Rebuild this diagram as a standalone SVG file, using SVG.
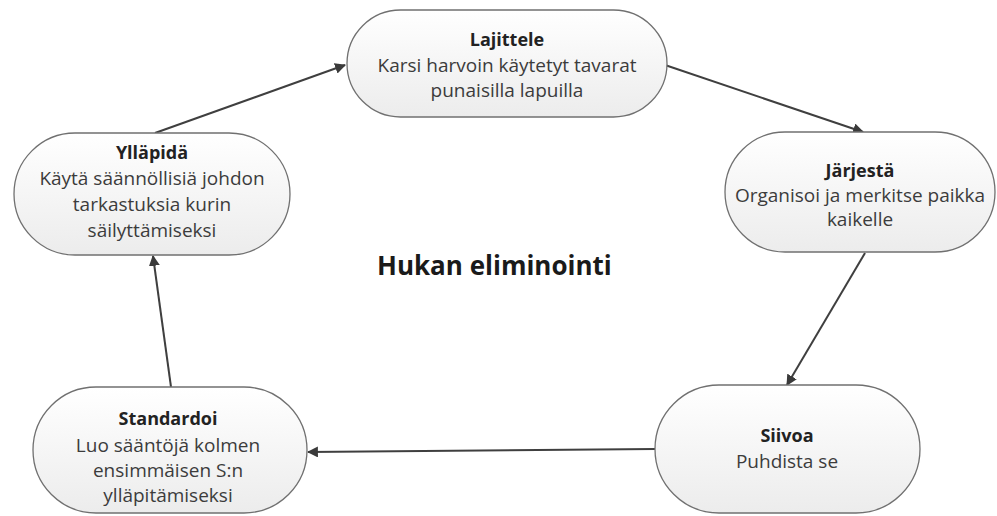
<svg xmlns="http://www.w3.org/2000/svg" width="997" height="516" viewBox="0 0 997 516">
<defs>
<linearGradient id="g" x1="0" y1="0" x2="0" y2="1">
<stop offset="0" stop-color="#ffffff"/>
<stop offset="1" stop-color="#ececec"/>
</linearGradient>
<marker id="ah" viewBox="0 0 10 10" refX="9" refY="5" markerWidth="11" markerHeight="11" markerUnits="userSpaceOnUse" orient="auto">
<path d="M0,0 L10,5 L0,10 z" fill="#3a3a3a"/>
</marker>
<style>
.box{fill:url(#g);stroke:#707070;stroke-width:1.3}
.t{font-family:"Open Sans","Liberation Sans",sans-serif;font-size:19px;fill:#3c3c3c;text-anchor:middle}
.h{font-weight:bold;fill:#222;font-size:18px}
.c{fill:none;stroke:#3f3f3f;stroke-width:2;marker-end:url(#ah)}
.title{font-family:"Open Sans","Liberation Sans",sans-serif;font-size:26px;font-weight:bold;fill:#1a1a1a}
</style>
</defs>
<rect width="997" height="516" fill="#ffffff"/>
<g id="connectors">
<line class="c" x1="155" y1="133" x2="345" y2="65"/>
<line class="c" x1="665" y1="65" x2="863" y2="132"/>
<line class="c" x1="865" y1="253" x2="787" y2="385"/>
<line class="c" x1="655" y1="449" x2="308" y2="452"/>
<line class="c" x1="171" y1="387" x2="153" y2="256"/>
</g>
<g id="lajittele">
<rect class="box" x="347" y="10" width="320" height="107" rx="53.5"/>
<text class="t h" x="507" y="46">Lajittele</text>
<text class="t" x="507" y="72">Karsi harvoin käytetyt tavarat</text>
<text class="t" x="507" y="97">punaisilla lapuilla</text>
</g>
<g id="jarjesta">
<rect class="box" x="725" y="132" width="270" height="120" rx="60"/>
<text class="t h" x="860" y="177">Järjestä</text>
<text class="t" x="860" y="202">Organisoi ja merkitse paikka</text>
<text class="t" x="860" y="226">kaikelle</text>
</g>
<g id="siivoa">
<rect class="box" x="655" y="385" width="265" height="128" rx="64"/>
<text class="t h" x="787" y="442">Siivoa</text>
<text class="t" x="787" y="468">Puhdista se</text>
</g>
<g id="standardoi">
<rect class="box" x="33" y="387" width="274" height="126" rx="63"/>
<text class="t h" x="168" y="425">Standardoi</text>
<text class="t" x="168" y="452">Luo sääntöjä kolmen</text>
<text class="t" x="168" y="477">ensimmäisen S:n</text>
<text class="t" x="168" y="502">ylläpitämiseksi</text>
</g>
<g id="yllapida">
<rect class="box" x="14" y="133" width="276" height="122" rx="61"/>
<text class="t h" x="152" y="159">Ylläpidä</text>
<text class="t" x="152" y="185">Käytä säännöllisiä johdon</text>
<text class="t" x="152" y="211">tarkastuksia kurin</text>
<text class="t" x="152" y="237">säilyttämiseksi</text>
</g>
<text class="title" x="377" y="275">Hukan eliminointi</text>
</svg>
